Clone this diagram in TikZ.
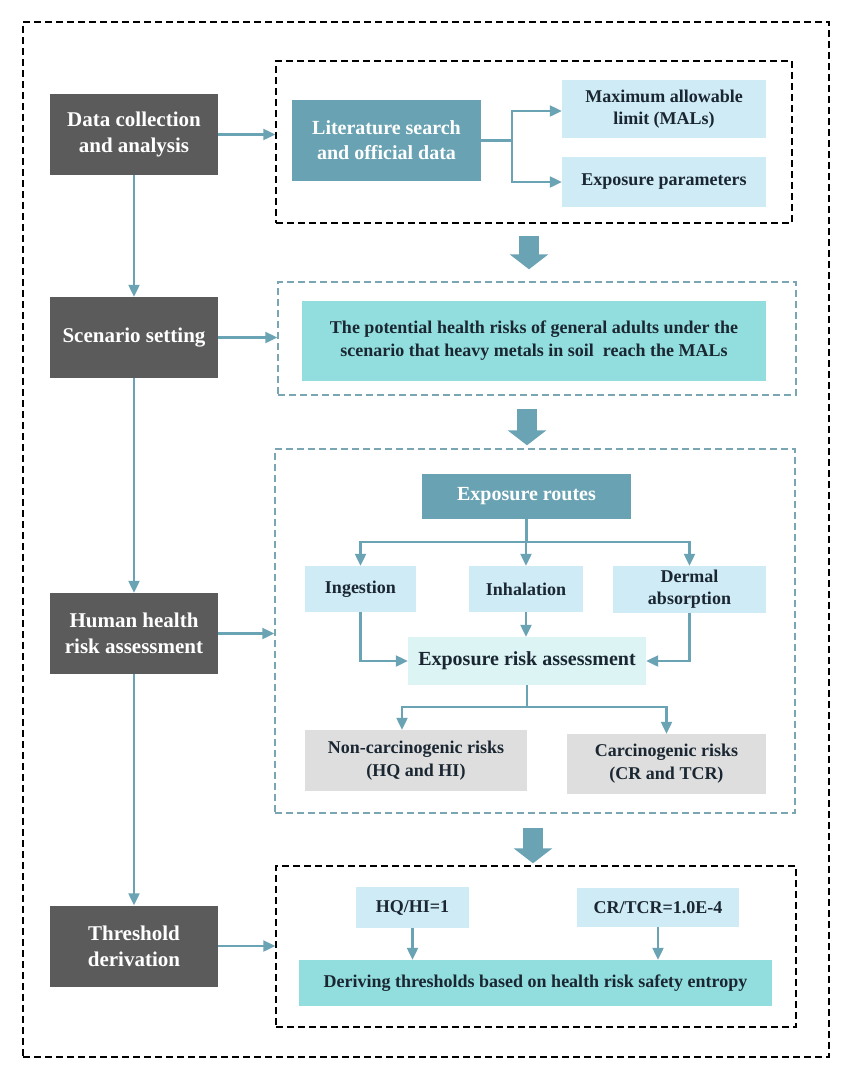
\documentclass[tikz,border=0pt]{standalone}
\usepackage{fontspec}
\setmainfont{Liberation Serif}
\usetikzlibrary{arrows.meta}
\definecolor{stagegrey}{HTML}{5B5B5B}
\definecolor{tealbox}{HTML}{69A3B3}
\definecolor{paleblue}{HTML}{CFEBF5}
\definecolor{cyanbox}{HTML}{92DEDE}
\definecolor{palecyan}{HTML}{DCF4F4}
\definecolor{riskgrey}{HTML}{DEDEDE}
\definecolor{linkblue}{HTML}{6AA3B4}
\definecolor{tealdash}{HTML}{7AA6B3}
\definecolor{darktext}{HTML}{1A2732}

\begin{document}
\begin{tikzpicture}[x=1pt,y=-1pt]
    \tikzstyle{stage}=[fill=stagegrey,text=white,font=\fontsize{21}{26}\selectfont\bfseries,align=center,minimum width=168pt,minimum height=81pt,inner sep=0pt]
    \tikzstyle{box}=[text=darktext,font=\fontsize{18}{22}\selectfont\bfseries,align=center,inner sep=0pt]
    \tikzstyle{frame}=[draw=black,line width=1.4pt,dash pattern=on 7pt off 4pt,inner sep=0pt]
    \tikzstyle{tealframe}=[draw=tealdash,line width=1.4pt,dash pattern=on 7pt off 4pt,inner sep=0pt]
    \tikzstyle{link}=[draw=linkblue,line width=2.2pt]
    \tikzstyle{arrow}=[link,-{Triangle[length=12pt,width=11pt]}]
    \tikzstyle{bigarrow}=[draw=linkblue,line width=20pt,-{Triangle[length=15pt,width=38pt]}]
    \useasboundingbox (0,0) rectangle (852,1080);
    \node[frame,minimum width=806pt,minimum height=1035pt] (outer) at (426,539.5) {};
    \coordinate (col) at (529,0);

    \node[stage] (data) at (134,134.5) {Data collection\\and analysis};
    \node[stage] (scen) at (134,337.5) {Scenario setting};
    \node[stage] (hhra) at (134,633.5) {Human health\\risk assessment};
    \node[stage] (thr) at (134,946) {Threshold\\derivation};

    \node[frame,minimum width=516pt,minimum height=162pt] (topbox) at (534,142) {};
    \node[box,fill=tealbox,text=white,font=\fontsize{20}{25}\selectfont\bfseries,minimum width=189pt,minimum height=81pt] (lit) at (386.5,140.5) {Literature search\\and official data};
    \node[box,fill=paleblue,minimum width=204pt,minimum height=58pt] (mal) at (664,109) {Maximum allowable\\limit (MALs)};
    \node[box,fill=paleblue,minimum width=204pt,minimum height=50pt] (expar) at (664,182) {Exposure parameters};

    \node[tealframe,minimum width=518pt,minimum height=113pt] (scenbox) at (537,338.5) {};
    \node[box,fill=cyanbox,minimum width=464pt,minimum height=80pt,font=\fontsize{18}{23}\selectfont\bfseries] (scentext) at (534,341) {The potential health risks of general adults under the\\scenario that heavy metals in soil\ \ reach the MALs};

    \node[tealframe,minimum width=520pt,minimum height=364pt] (midbox) at (535,631) {};
    \node[box,fill=tealbox,text=white,font=\fontsize{20}{24}\selectfont\bfseries,minimum width=209pt,minimum height=45pt] (routes) at (526.5,496.5) {Exposure routes};
    \node[box,fill=paleblue,minimum width=111pt,minimum height=46pt] (ing) at (360.5,589) {Ingestion};
    \node[box,fill=paleblue,minimum width=114pt,minimum height=46pt] (inh) at (526,589) {Inhalation};
    \node[box,fill=paleblue,minimum width=153pt,minimum height=47pt] (derm) at (689.5,589.5) {Dermal\\absorption};
    \node[box,fill=palecyan,font=\fontsize{20}{24}\selectfont\bfseries,minimum width=238pt,minimum height=48pt] (era) at (527,661) {Exposure risk assessment};
    \node[box,fill=riskgrey,minimum width=222pt,minimum height=61pt,font=\fontsize{18}{23}\selectfont\bfseries] (noncarc) at (416,760.5) {Non-carcinogenic risks\\(HQ and HI)};
    \node[box,fill=riskgrey,minimum width=199pt,minimum height=60pt,font=\fontsize{18}{23}\selectfont\bfseries] (carc) at (666.5,764) {Carcinogenic risks\\(CR and TCR)};

    \node[frame,minimum width=520pt,minimum height=161pt] (botbox) at (536,946.5) {};
    \node[box,fill=paleblue,minimum width=113pt,minimum height=41pt] (hq) at (412.5,907.5) {HQ/HI=1};
    \node[box,fill=paleblue,minimum width=162pt,minimum height=39pt] (cr) at (658,907.5) {CR/TCR=1.0E-4};
    \node[box,fill=cyanbox,minimum width=473pt,minimum height=46pt] (deriv) at (535.5,983) {Deriving thresholds based on health risk safety entropy};

    \draw[arrow] (data) -- (scen);
    \draw[arrow] (scen) -- (hhra);
    \draw[arrow] (hhra) -- (thr);
    \draw[arrow] (data.east) -- (data.east -| topbox.west);
    \draw[arrow] (scen.east) -- (scen.east -| scenbox.west);
    \draw[arrow] (hhra.east) -- (hhra.east -| midbox.west);
    \draw[arrow] (thr.east) -- (thr.east -| botbox.west);

    \draw[link] (lit.east) -- ++(31,0) coordinate (split);
    \draw[arrow] (split) |- ([yshift=-2pt]mal.west);
    \draw[arrow] (split) |- (expar.west);

    \draw[link] (routes.south) -- ++(0,23) coordinate (fork);
    \draw[arrow] (fork) -| (ing.north);
    \draw[arrow] (fork) -| (derm.north);
    \draw[arrow] (fork -| inh.north) -- (inh.north);
    \draw[arrow] (ing.south) |- (era.west);
    \draw[arrow] (derm.south) |- (era.east);
    \draw[arrow] (inh.south) -- (inh.south |- era.north);
    \draw[link] (era.south) -- ++(0,22) coordinate (riskfork);
    \draw[arrow] (riskfork) -| ([xshift=-14pt]noncarc.north);
    \draw[arrow] (riskfork) -| (carc.north);

    \draw[arrow] (hq.south) -- (hq.south |- deriv.north);
    \draw[arrow] (cr.south) -- (cr.south |- deriv.north);

    \draw[bigarrow,shorten <=12pt,shorten >=12pt] (topbox.south -| col) -- (scenbox.north -| col);
    \draw[bigarrow,shorten <=13pt,shorten >=3pt] ([xshift=-2pt]scenbox.south -| col) -- ([xshift=-2pt]midbox.north -| col);
    \draw[bigarrow,shorten <=14pt,shorten >=2pt] ([xshift=4pt]midbox.south -| col) -- ([xshift=4pt]botbox.north -| col);
\end{tikzpicture}
\end{document}
